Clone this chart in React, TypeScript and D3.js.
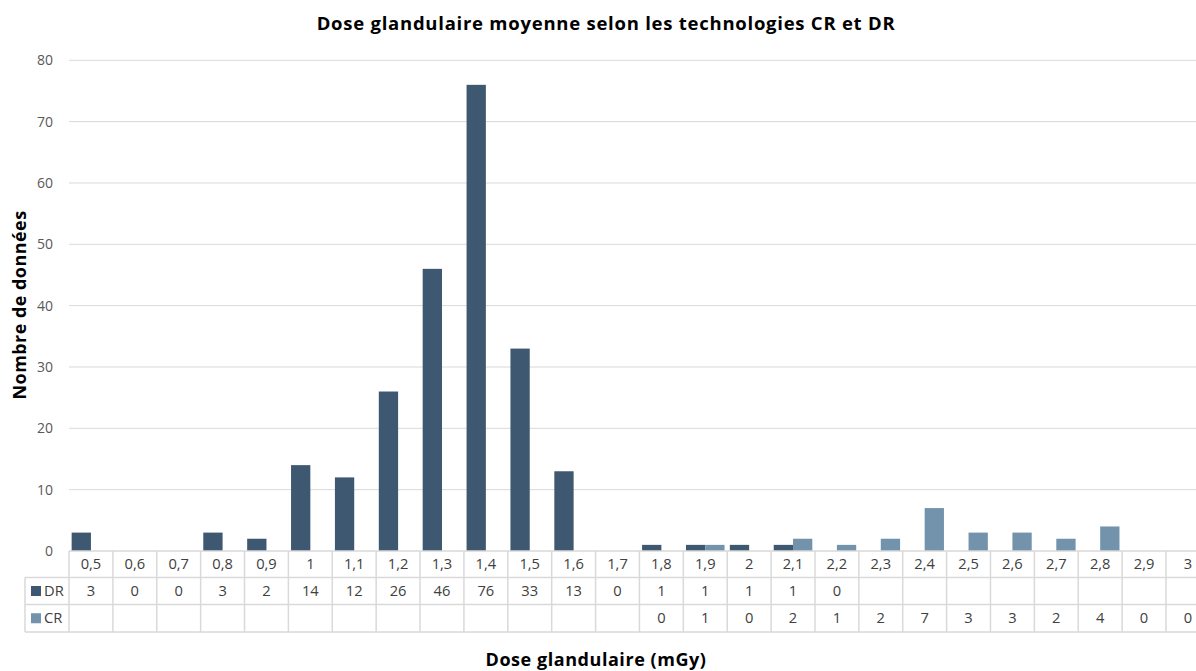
import React from "react";
import * as d3 from "d3";

const categories = ["0,5","0,6","0,7","0,8","0,9","1","1,1","1,2","1,3","1,4","1,5","1,6","1,7","1,8","1,9","2","2,1","2,2","2,3","2,4","2,5","2,6","2,7","2,8","2,9","3"];
const drValues: (number | null)[] = [3,0,0,3,2,14,12,26,46,76,33,13,0,1,1,1,1,0,null,null,null,null,null,null,null,null];
const crValues: (number | null)[] = [null,null,null,null,null,null,null,null,null,null,null,null,null,0,1,0,2,1,2,7,3,3,2,4,0,0];
const yTicks = [0,10,20,30,40,50,60,70,80];
const seriesNames = ["DR","CR"];
const seriesColors = ["#3d5870","#7393ad"];

const W = 1196, H = 671;
const left = 69, step = 43.88;
const top = 60.3, zeroY = 551;
const rowY = [551, 577.5, 604.5, 632];
const legendLeft = 25;
const font = "'Open Sans', 'Noto Sans', sans-serif";

export default function App() {
  const x = d3.scaleBand<string>().domain(categories).range([left, left + step * categories.length]).paddingInner(0).paddingOuter(0);
  const xs = d3.scaleBand<string>().domain(seriesNames).range([0, x.bandwidth()]).paddingInner(0).paddingOuter(0.137);
  const y = d3.scaleLinear().domain([0, 80]).range([zeroY, top]);
  const series = [drValues, crValues];
  const grid = "#d9d9d9";
  const right = W;
  const tc = "#404040";
  const fs = 14.7;
  return (
    <svg width={W} height={H} style={{ position: "absolute", left: 0, top: 0, background: "#fff" }} fontFamily={font}>
      <text x={606} y={24} dy="0.35em" textAnchor="middle" fontSize={18.5} letterSpacing={0.75} fontWeight={700} fill="#000">Dose glandulaire moyenne selon les technologies CR et DR</text>
      {yTicks.map(t => (
        <g key={t}>
          {t > 0 && <line x1={left} x2={right} y1={y(t)} y2={y(t)} stroke={grid} strokeWidth={1} />}
          <text x={53} y={y(t)} dy="0.35em" textAnchor="end" fontSize={14} fill="#595959">{t}</text>
        </g>
      ))}
      {series.map((vals, si) => vals.map((v, i) => v == null || v === 0 ? null : (
        <rect key={`${si}-${i}`} x={(x(categories[i]) as number) + (xs(seriesNames[si]) as number)} width={xs.bandwidth()} y={y(v)} height={zeroY - y(v)} fill={seriesColors[si]} />
      )))}
      <line x1={left} x2={right} y1={rowY[0]} y2={rowY[0]} stroke={grid} strokeWidth={1.5} />
      {rowY.slice(1).map((ry, i) => (
        <line key={i} x1={legendLeft} x2={right} y1={ry} y2={ry} stroke={grid} strokeWidth={1.5} />
      ))}
      <line x1={legendLeft} x2={legendLeft} y1={rowY[1]} y2={rowY[3]} stroke={grid} strokeWidth={1.5} />
      {categories.map(c => (
        <line key={c} x1={x(c)} x2={x(c)} y1={rowY[0]} y2={rowY[3]} stroke={grid} strokeWidth={1.5} />
      ))}
      {categories.map(c => (
        <text key={c} x={(x(c) as number) + x.bandwidth() / 2} y={(rowY[0] + rowY[1]) / 2} dy="0.35em" textAnchor="middle" fontSize={fs} fill={tc}>{c}</text>
      ))}
      {series.map((vals, si) => (
        <g key={si}>
          <rect x={31} y={(rowY[si + 1] + rowY[si + 2]) / 2 - 5} width={10} height={10} fill={seriesColors[si]} />
          <text x={44} y={(rowY[si + 1] + rowY[si + 2]) / 2} dy="0.35em" fontSize={fs} fill={tc}>{seriesNames[si]}</text>
          {vals.map((v, i) => v == null ? null : (
            <text key={i} x={(x(categories[i]) as number) + x.bandwidth() / 2} y={(rowY[si + 1] + rowY[si + 2]) / 2} dy="0.35em" textAnchor="middle" fontSize={fs} fill={tc}>{v}</text>
          ))}
        </g>
      ))}
      <text x={596} y={660} dy="0.35em" textAnchor="middle" fontSize={18} letterSpacing={0.55} fontWeight={700} fill="#000">Dose glandulaire (mGy)</text>
      <text transform={`translate(20,305) rotate(-90)`} dy="0.35em" textAnchor="middle" fontSize={18} letterSpacing={0.45} fontWeight={700} fill="#000">Nombre de données</text>
    </svg>
  );
}
